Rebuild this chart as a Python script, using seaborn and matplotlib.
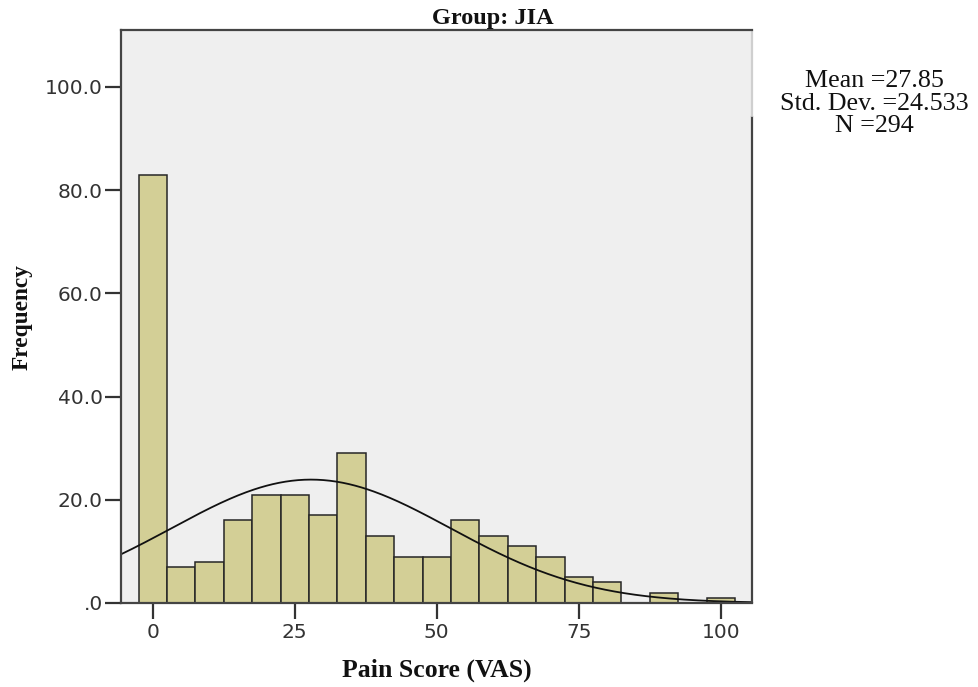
import numpy as np
import pandas as pd
import matplotlib
matplotlib.use("Agg")
import matplotlib.pyplot as plt
import seaborn as sns

# Data
bin_centers = [0, 5, 10, 15, 20, 25, 30, 35, 40, 45, 50, 55, 60, 65, 70, 75, 80, 85, 90, 95, 100]
counts = [83, 7, 8, 16, 21, 21, 17, 29, 13, 9, 9, 16, 13, 11, 9, 5, 4, 0, 2, 0, 1]
mean_val = 27.85
std_val = 24.533
n_val = 294
bin_width = 5
x_ticks = [0, 25, 50, 75, 100]
y_ticks = [0, 20, 40, 60, 80, 100]
y_tick_labels = [".0", "20.0", "40.0", "60.0", "80.0", "100.0"]
stat_lines = ["Mean =27.85", "Std. Dev. =24.533", "N =294"]

sns.set_theme(style="white")
plt.rcParams["font.family"] = ["DejaVu Sans"]

df = pd.DataFrame({"score": bin_centers, "count": counts})

W, H = 979, 687
fig = plt.figure(figsize=(W / 100, H / 100), dpi=100)
ax = fig.add_axes([121 / W, 1 - 603 / H, (752 - 121) / W, (603 - 30) / H])
ax.set_facecolor("#efefef")

sns.histplot(data=df, x="score", weights="count", binwidth=bin_width,
             binrange=(bin_centers[0] - bin_width / 2, bin_centers[-1] + bin_width / 2), ax=ax,
             color="#d3cf96", edgecolor="#262626", linewidth=1.1, alpha=1.0)

xlim = (-5.6, 105.5)
xs = np.linspace(xlim[0], xlim[1], 400)
ys = n_val * bin_width / (std_val * np.sqrt(2 * np.pi)) * np.exp(-0.5 * ((xs - mean_val) / std_val) ** 2)
sns.lineplot(x=xs, y=ys, ax=ax, color="#111111", linewidth=1.3)

ax.set_xlim(*xlim)
ax.set_ylim(0, 111)
ax.set_xticks(x_ticks)
ax.set_xticklabels([str(t) for t in x_ticks])
ax.set_yticks(y_ticks)
ax.set_yticklabels(y_tick_labels)
ax.tick_params(axis="both", which="both", direction="out", length=11.5, width=1.6,
               color="#333333", labelsize=14.5, labelcolor="#333333",
               bottom=True, left=True)
ax.tick_params(axis="y", pad=1.5)
ax.tick_params(axis="x", pad=3)

for s in ax.spines.values():
    s.set_color("#444444")
    s.set_linewidth(1.6)
# SPSS-style right border: light at top, dark below
ax.spines["right"].set_visible(False)
split = (603 - 116) / (603 - 30)
ax.axvline(xlim[1], ymin=0, ymax=split, color="#444444", linewidth=1.6, clip_on=False)
ax.axvline(xlim[1], ymin=split, ymax=1, color="#cfcfcf", linewidth=1.6, clip_on=False)

serif = ["Liberation Serif", "DejaVu Serif"]
ax.set_xlabel("Pain Score (VAS)", fontfamily=serif, fontweight="bold", fontsize=18.5,
              labelpad=12, color="#111111")
ax.set_ylabel("Frequency", fontfamily=serif, fontweight="bold", fontsize=16.8,
              labelpad=9, color="#111111")
fig.text(492.5 / W, 1 - 24 / H, "Group: JIA", ha="center", va="baseline",
         fontfamily=serif, fontweight="bold", fontsize=17.5, color="#111111")

for line, yb in zip(stat_lines, [87, 110, 132]):
    fig.text(874 / W, 1 - yb / H, line, ha="center", va="baseline",
             fontfamily=serif, fontsize=18.7, color="#111111")

fig.savefig("out.png", dpi=100)
